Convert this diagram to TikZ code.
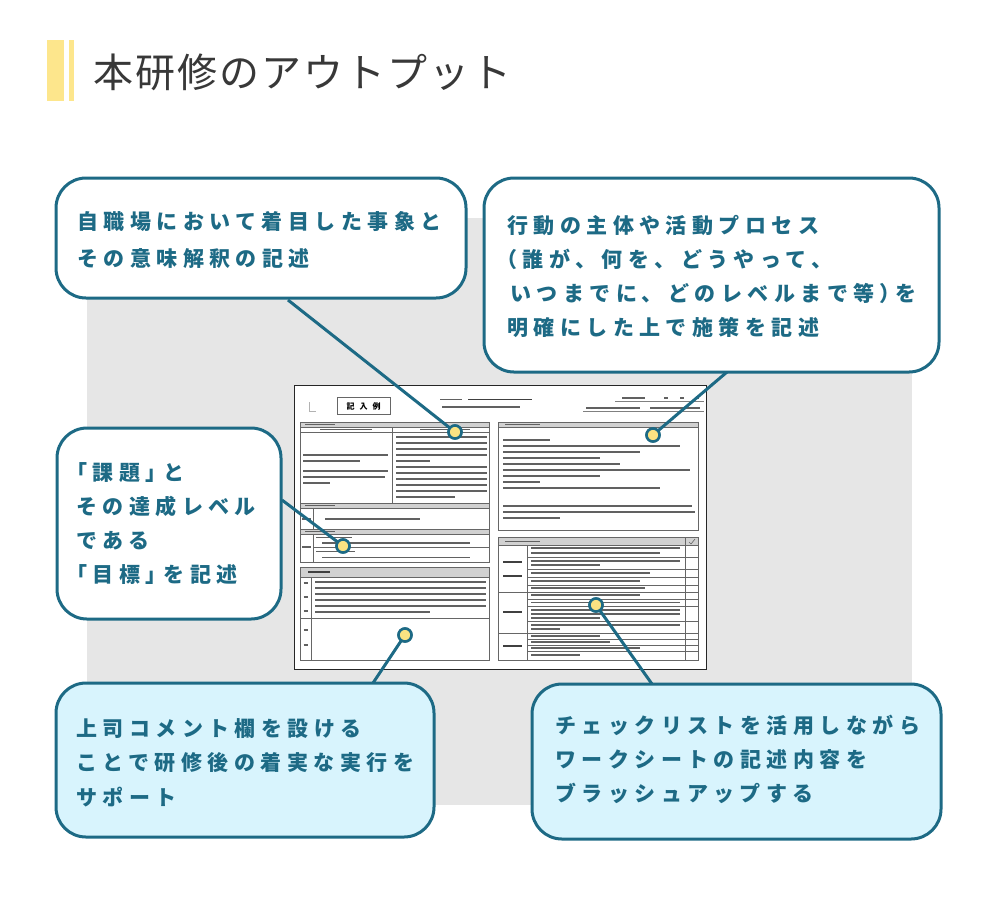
\documentclass[tikz,border=0pt]{standalone}
\usepackage{fontspec}
\newfontfamily\jp{Noto Sans CJK JP}
\newfontfamily\jpt[LetterSpace=5]{Noto Sans CJK JP}
\newfontfamily\jpc[LetterSpace=26]{Noto Sans CJK JP}
\definecolor{tealc}{HTML}{1D6A85}
\definecolor{lblue}{HTML}{D8F4FD}
\definecolor{bggray}{HTML}{E6E6E6}
\definecolor{dotyel}{HTML}{FBE382}
\definecolor{baryel}{HTML}{FDE68C}
\definecolor{titlec}{HTML}{383838}
\tikzset{
  callout/.style={draw=tealc, line width=3, fill=white, rounded corners=30, inner sep=0},
  calloutb/.style={callout, fill=lblue},
  ctext/.style={anchor=west, inner sep=0, align=left, text=tealc},
  conn/.style={draw=tealc, line width=3},
  dotc/.style={circle, draw=tealc, line width=2.5, fill=dotyel, minimum size=13, inner sep=0},
  ws/.style={draw=black!85, line width=1},
  cell/.style={draw=black!60, line width=0.6},
  hdr/.style={fill=black!18, draw=black!60, line width=0.6},
  ft/.style={draw=black!62, line width=1.5},
  ftb/.style={draw=black!75, line width=1.9},
}
\begin{document}
\begin{tikzpicture}[x=1pt,y=-1pt]
\useasboundingbox (0,0) rectangle (1000,914);
% title
\fill[baryel] (47,40) rectangle (64,101);
\fill[baryel] (69,40) rectangle (74,101);
\node[anchor=west, inner sep=0, text=titlec, font=\jpt\fontsize{40}{40}\selectfont] (title) at (93,72) {本研修のアウトプット};
% gray background
\fill[bggray] (87,218) rectangle (912,805);
% ---------------- worksheet ----------------
\draw[ws, fill=white] (294,385) rectangle (706,669);
\draw[black!30, line width=0.8] (309,402) -- (309,411) -- (316,411);
\node[draw=black!60, line width=0.6, minimum width=53, minimum height=17, inner sep=0, font=\jp\fontsize{8}{8}\selectfont\bfseries] (kinyu) at (363.5,406) {記\hspace{5pt}入\hspace{5pt}例};
\draw[ft] (440,399.5) -- (462,399.5);
\draw[ftb] (468,399.5) -- (532,399.5);
\draw[ft] (442,407) -- (520,407);
\draw[ft] (622,398) -- (645,398);
\draw[ft] (664,398) -- (668,398);
\draw[ft] (680,398) -- (684,398);
\draw[ft] (695,398) -- (699,398);
\draw[black!50, line width=0.5] (615,401) -- (704,401);
\draw[ft] (586,408) -- (640,408);
\draw[ft] (650,408) -- (700,408);
\draw[black!50, line width=0.5] (583,411) -- (704,411);
% section 1
\draw[cell] (300,422) rectangle (489,503);
\draw[hdr] (300,422) rectangle (489,427);
\draw[cell] (300,432) -- (489,432);
\draw[cell] (392,427) -- (392,503);
\draw[ft, line width=1] (305,424.5) -- (335,424.5);
\draw[ft, line width=1] (320,429.5) -- (372,429.5);
\draw[ft, line width=1] (420,429.5) -- (470,429.5);
\foreach \y/\xe in {455/388, 461/360, 471/388, 477/385, 483/330}
  \draw[ft] (303,\y) -- (\xe,\y);
\foreach \y/\xe in {437/487, 443/487, 449/487, 455/487, 461/430, 467/487, 473/487, 479/487, 485/487, 491/487, 497/455}
  \draw[ft] (396,\y) -- (\xe,\y);
% section 2
\draw[cell] (300,503) rectangle (489,529);
\draw[hdr] (300,503) rectangle (489,508);
\draw[cell] (313,508) -- (313,529);
\draw[ft, line width=1] (305,505.5) -- (335,505.5);
\draw[ft] (302,519) -- (311,519);
\draw[ft] (325,519) -- (420,519);
% section 3
\draw[cell] (300,529) rectangle (489,562);
\draw[hdr] (300,529) rectangle (489,534);
\draw[cell] (313,534) -- (313,562);
\draw[cell] (313,547.5) -- (489,547.5);
\draw[ft, line width=1] (305,531.5) -- (335,531.5);
\draw[ft] (302,547) -- (311,547);
\draw[ft, line width=1] (316,537.5) -- (352,537.5);
\draw[ft] (322,543) -- (470,543);
\draw[ft, line width=1] (316,551.5) -- (355,551.5);
\draw[ft] (322,557.5) -- (470,557.5);
% comment box
\draw[cell] (300,567) rectangle (489,660);
\draw[hdr] (300,567) rectangle (489,577);
\draw[cell] (311,577) -- (311,660);
\draw[cell] (300,618) -- (489,618);
\draw[ftb] (308,572) -- (330,572);
\foreach \y/\xe in {582/486, 588/486, 594/486, 600/486, 606/486, 612/430}
  \draw[ft] (315,\y) -- (\xe,\y);
\foreach \y in {583,597,611,630,645}
  \draw[ft] (303.5,\y) -- (307.5,\y);
% right box
\draw[cell] (498,422) rectangle (698,530);
\draw[hdr] (498,422) rectangle (698,427);
\draw[ft, line width=1] (505,424.5) -- (540,424.5);
\foreach \y/\xe in {440/550, 446/680, 452/640, 458/600, 464/620, 470/690, 476/600, 482/540, 488/660, 506/692, 512/695, 518/560}
  \draw[ft] (503,\y) -- (\xe,\y);
% checklist
\draw[cell] (498,537) rectangle (698,660);
\draw[hdr] (498,537) rectangle (698,545);
\draw[cell] (685,537) -- (685,660);
\draw[cell] (527,545) -- (527,660);
\draw[cell] (498,592) -- (698,592);
\draw[cell] (498,633) -- (698,633);
\foreach \y in {557,569,577,585,599,606,621,639,645,651}
  \draw[cell] (527,\y) -- (698,\y);
\draw[ft, line width=1] (505,541) -- (540,541);
\draw[black!60, line width=0.6] (689,542) -- (691,544) -- (695,539);
\foreach \y/\xe in {548/680, 553/660, 561/680, 565/600, 573/650, 581/640, 588/645, 595/640, 602.5/680, 610/680, 614/680, 618/600, 625/680, 629/560, 636/600, 642/610, 648/640, 655/580}
  \draw[ft] (531,\y) -- (\xe,\y);
\foreach \y in {562,576,612,646}
  \draw[ftb] (503,\y) -- (522,\y);
% ---------------- connectors ----------------
\node[dotc] (d1) at (455,432) {};
\node[dotc] (d2) at (653,435) {};
\node[dotc] (d3) at (343,546) {};
\node[dotc] (d4) at (405,635) {};
\node[dotc] (d5) at (596,605) {};
\coordinate (e1) at (288,300);
\coordinate (e2) at (727,372);
\coordinate (e3) at (282,500);
\coordinate (e4) at (373,683);
\coordinate (e5) at (652,684);
\draw[conn] (d1.center) -- (e1);
\draw[conn] (d2.center) -- (e2);
\draw[conn] (d3.center) -- (e3);
\draw[conn] (d4.center) -- (e4);
\draw[conn] (d5.center) -- (e5);
\node[dotc] at (d1) {};
\node[dotc] at (d2) {};
\node[dotc] at (d3) {};
\node[dotc] at (d4) {};
\node[dotc] at (d5) {};
% ---------------- callouts ----------------
\node[callout, minimum width=410, minimum height=120] (b1) at (261,238) {};
\node[ctext, font=\jpc\fontsize{21}{37}\selectfont\bfseries] (t1) at (77,239.5) {自職場において着目した事象と\\その意味解釈の記述};
\node[callout, minimum width=455, minimum height=194] (b2) at (711.5,275) {};
\node[ctext, font=\jpc\fontsize{21}{34.3}\selectfont\bfseries] (t2) at (507,276.5) {行動の主体や活動プロセス\\\hspace*{-11pt}（誰が、何を、どうやって、\\\hspace*{3pt}いつまでに、どのレベルまで等）\hspace{-6pt}を\\明確にした上で施策を記述};
\node[callout, minimum width=224, minimum height=191] (b3) at (169,523.5) {};
\node[ctext, font=\jpc\fontsize{21}{34}\selectfont\bfseries] (t3) at (76,524) {\hspace*{-10pt}「課題」\hspace{-3pt}と\\その達成レベル\\である\\\hspace*{-10pt}「目標」\hspace{-3pt}を記述};
\node[calloutb, minimum width=378, minimum height=154] (b4) at (245,760) {};
\node[ctext, font=\jpc\fontsize{21}{34.5}\selectfont\bfseries] (t4) at (76,762.5) {上司コメント欄を設ける\\ことで研修後の着実な実行を\\サポート};
\node[calloutb, minimum width=409, minimum height=155] (b5) at (736.5,761.5) {};
\node[ctext, font=\jpc\fontsize{21}{34}\selectfont\bfseries] (t5) at (555,759) {チェックリストを活用しながら\\ワークシートの記述内容を\\ブラッシュアップする};
\end{tikzpicture}
\end{document}
